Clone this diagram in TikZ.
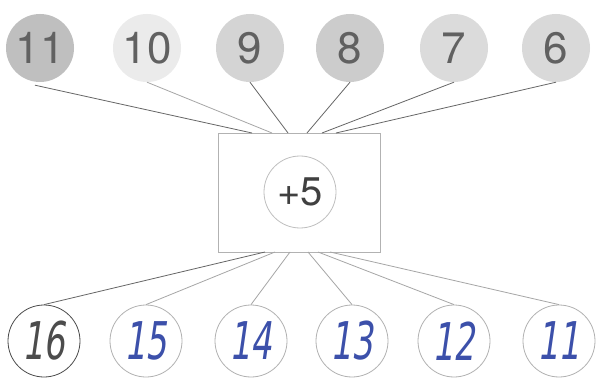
\documentclass[tikz,border=0pt]{standalone}
\usepackage{fontspec}
\setmainfont{TeX Gyre Heros}
\newfontfamily\handfont{DejaVu Sans Condensed}[FakeSlant=0.2]
\newcommand{\hand}[1]{\scalebox{0.72}[1.0]{#1}}
\begin{document}
\begin{tikzpicture}[x=1pt,y=-1pt,
  topc/.style={circle,minimum size=68pt,inner sep=0pt,text=black!62,font=\fontsize{44}{46}\selectfont},
  botc/.style={circle,draw=black!30,line width=0.8pt,minimum size=72pt,inner sep=0pt,text={rgb,255:red,60;green,80;blue,170},font=\handfont\fontsize{52}{54}\selectfont},
  link/.style={draw=black!60,line width=0.8pt},
  linklight/.style={draw=black!35,line width=0.8pt}]
\useasboundingbox[fill=white] (0,0) rectangle (597,382);
% top
\node[topc,fill=black!25] (t11) at (40,48) {11};
\node[topc,fill=black!8]  (t10) at (147,48) {10};
\node[topc,fill=black!17] (t9)  at (250,48) {9};
\node[topc,fill=black!20] (t8)  at (350,48) {8};
\node[topc,fill=black!14] (t7)  at (454,48) {7};
\node[topc,fill=black!15] (t6)  at (556,48) {6};
% box
\node[draw=black!30,line width=0.8pt,minimum width=162pt,minimum height=119pt,inner sep=0pt] (box) at (299,192.5) {};
\node[circle,draw=black!25,line width=0.8pt,minimum size=72pt,inner sep=0pt,text=black!75,font=\fontsize{40}{42}\selectfont] (op) at (300,192) {+5};
% bottom
\node[botc,draw=black!70,text=black!70] (b16) at (44,341) {\hand{16}};
\node[botc] (b15) at (146,341) {\hand{15}};
\node[botc] (b14) at (251,341) {\hand{14}};
\node[botc] (b13) at (352,341) {\hand{13}};
\node[botc] (b12) at (454,341) {\hand{12}};
\node[botc] (b11) at (559,341) {\hand{11}};
% box anchors
\coordinate (i1) at (252,133);
\coordinate (i2) at (272,133);
\coordinate (i3) at (288,133);
\coordinate (i4) at (307,133);
\coordinate (i5) at (322,133);
\coordinate (i6) at (336,133);
\coordinate (o1) at (265,252);
\coordinate (o2) at (275,252);
\coordinate (o3) at (290,252);
\coordinate (o4) at (308,252);
\coordinate (o5) at (318,252);
\coordinate (o6) at (330,252);
% top links
\draw[link] (t11.south) ++(-5,3) -- (i1);
\draw[linklight] (t10.south) -- (i2);
\draw[link] (t9.south) -- (i3);
\draw[link] (t8.south) -- (i4);
\draw[link] (t7.south) -- (i5);
\draw[link] (t6.south) -- (i6);
% bottom links
\draw[link] (o1) -- (b16.north);
\draw[linklight] (o2) -- (b15.north);
\draw[linklight] (o3) -- (b14.north);
\draw[linklight] (o4) -- (b13.north);
\draw[linklight] (o5) -- (b12.north);
\draw[linklight] (o6) -- (b11.north);
\end{tikzpicture}
\end{document}
